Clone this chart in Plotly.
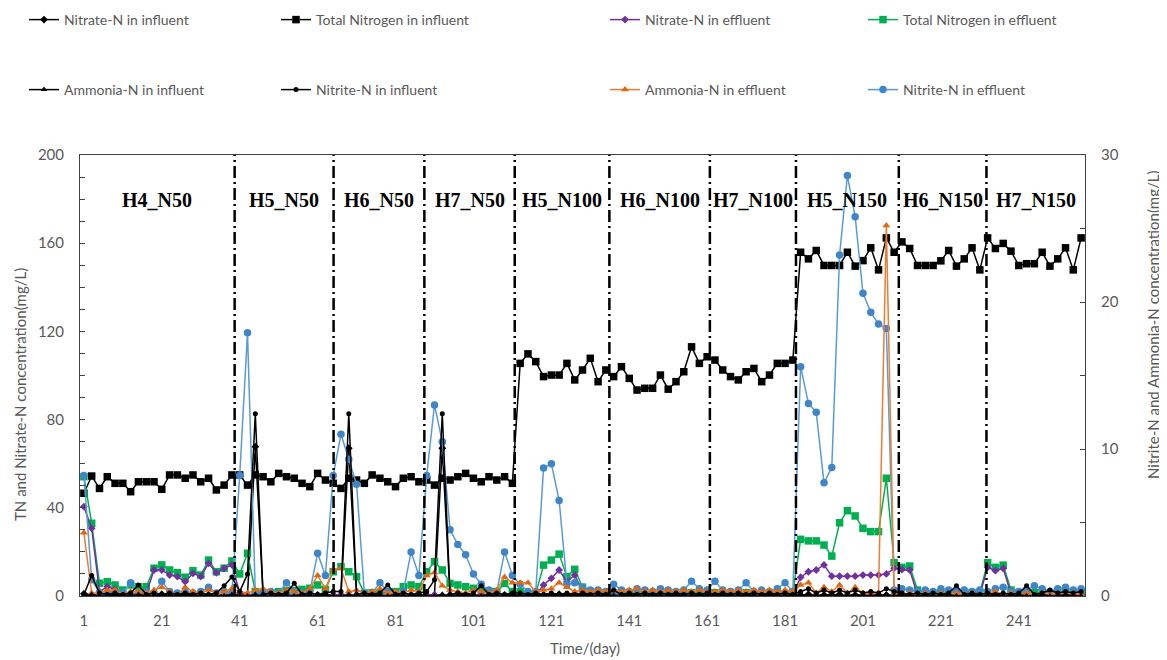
import plotly.graph_objects as go

# ---------------- data ----------------
days = list(range(1, 258, 2))  # sampling days (129 samples)
x_ticks = [1, 21, 41, 61, 81, 101, 121, 141, 161, 181, 201, 221, 241]

phase_names = ["H4_N50", "H5_N50", "H6_N50", "H7_N50", "H5_N100", "H6_N100",
               "H7_N100", "H5_N150", "H6_N150", "H7_N150"]
phase_bounds = [39.7, 65.1, 88.4, 111.6, 135.9, 161.7, 183.8, 210.2, 232.7]

tn_in = [
    46.6, 54.4, 48.8, 54.1, 51.1, 51.1, 47.3, 51.8, 51.8, 51.8, 48.4, 54.9, 54.9, 53.4, 54.9, 51.8, 53.4, 48.1, 50.3, 54.9,
    54.9, 50.3, 54.9, 54.1, 51.8, 55.6, 54.1, 53.4, 51.1, 49.6, 55.6, 52.6, 51.1,
    48.8, 53.4, 52.6, 51.1, 54.9, 53.4, 51.8, 49.6, 53.4, 54.1, 51.8,
    52.6, 50.3, 53.4, 52.6, 54.1, 55.6, 53.4, 51.8, 54.1, 52.6, 54.1, 51.1,
    105.5, 109.8, 106.3, 99.5, 100.2, 100.2, 105.5, 98.0, 102.5, 107.8, 97.2, 102.5,
    99.5, 104.0, 98.7, 93.4, 94.2, 94.2, 100.2, 93.8, 97.2, 101.7, 113.0, 105.5, 108.5,
    107.0, 102.5, 99.5, 98.0, 101.7, 103.2, 97.2, 100.2, 105.5, 105.5, 107.0,
    155.9, 152.9, 156.7, 149.9, 149.9, 149.9, 155.9, 149.6, 152.1, 157.9, 147.9, 162.4, 155.9,
    160.6, 157.6, 149.9, 149.9, 149.9, 152.0, 156.7, 149.6, 152.9, 157.9, 147.9,
    162.4, 157.6, 159.9, 156.4, 149.9, 150.7, 150.7, 155.9, 149.6, 152.9, 157.9, 147.9, 162.4]

tn_eff = [
    54.1, 33.0, 5.8, 6.5, 5.0, 2.7, 5.0, 4.2, 4.2, 12.6, 14.1, 11.8, 10.6, 8.5, 11.5, 9.5, 16.3, 11.0, 12.6, 15.9,
    10.0, 19.4, 2.0, 1.5, 1.5, 2.0, 2.5, 2.5, 3.0, 3.5, 5.0, 3.0, 11.0,
    13.3, 11.0, 8.8, 1.3, 1.5, 1.5, 1.5, 2.0, 4.2, 5.0, 4.2,
    11.0, 15.6, 11.8, 5.7, 5.0, 4.2, 3.5, 2.7, 2.0, 2.0, 5.7, 2.0,
    2.0, 1.0, 1.0, 14.0, 16.3, 19.0, 8.8, 12.1, 4.0, 2.0, 1.5, 1.5,
    1.5, 1.0, 1.5, 1.0, 1.5, 1.0, 1.5, 1.0, 1.5, 1.0, 1.5, 1.5, 1.0,
    1.5, 1.0, 1.5, 1.0, 1.5, 1.0, 1.5, 1.0, 1.5, 1.0, 1.5,
    25.7, 25.0, 25.0, 23.1, 18.1, 33.2, 38.7, 36.3, 30.7, 29.2, 29.2, 53.4, 15.1,
    13.0, 13.6, 2.7, 1.5, 1.0, 1.5, 1.0, 1.5, 1.0, 1.5, 1.5,
    15.1, 13.0, 14.0, 2.7, 1.5, 1.0, 1.5, 1.5, 1.0, 1.5, 1.5, 1.0, 1.5]

nitrate_eff = [
    40.5, 30.7, 2.0, 4.2, 3.0, 1.0, 1.0, 1.0, 1.0, 11.8, 11.8, 9.5, 8.8, 6.5, 10.3, 8.8, 14.8, 10.5, 12.6, 14.1,
    1.5, 0.5, 0.3, 0.5, 0.3, 0.5, 0.3, 0.5, 0.3, 0.5, 0.3, 0.5, 0.3,
    0.5, 0.3, 0.5, 0.3, 0.5, 0.3, 0.5, 0.3, 0.5, 0.3, 0.5,
    0.3, 0.5, 0.3, 0.5, 0.3, 0.5, 0.3, 0.5, 0.3, 0.5, 0.3, 0.5,
    0.5, 0.5, 0.5, 5.0, 8.0, 11.8, 6.5, 9.5, 2.0, 0.5, 0.5, 0.5,
    0.3, 0.5, 0.3, 0.5, 0.3, 0.5, 0.3, 0.5, 0.3, 0.5, 0.3, 0.5, 0.3,
    0.5, 0.3, 0.5, 0.3, 0.5, 0.3, 0.5, 0.3, 0.5, 0.3, 0.5,
    8.5, 11.0, 11.8, 14.1, 9.0, 9.0, 9.0, 9.0, 9.5, 9.5, 9.5, 10.0, 12.6,
    12.0, 11.8, 0.5, 0.3, 0.5, 0.3, 0.5, 0.3, 0.5, 0.3, 0.5,
    13.0, 11.5, 12.5, 1.0, 0.5, 0.3, 0.5, 0.3, 0.5, 0.3, 0.5, 0.3, 0.5]

nitrate_in = [
    1.0, 0.5, 0.5, 0.8, 0.5, 0.5, 0.8, 0.5, 0.5, 0.5, 0.8, 0.5, 0.5, 0.5, 0.8, 0.5, 0.5, 0.5, 0.8, 0.5,
    0.5, 0.5, 67.7, 0.5, 0.5, 0.8, 0.5, 0.5, 0.5, 0.8, 0.5, 0.5, 0.5,
    0.5, 67.0, 0.5, 0.5, 0.8, 0.5, 0.5, 0.5, 0.8, 0.5, 0.5,
    0.5, 0.5, 67.0, 0.5, 0.5, 0.8, 0.5, 0.5, 0.5, 0.8, 0.5, 0.5,
    0.5, 0.8, 0.5, 0.5, 0.5, 0.8, 0.5, 0.5, 0.5, 0.8, 0.5, 0.5,
    0.5, 0.8, 0.5, 0.5, 0.5, 0.8, 0.5, 0.5, 0.5, 0.8, 0.5, 0.5, 0.5,
    0.8, 0.5, 0.5, 0.5, 0.8, 0.5, 0.5, 0.5, 0.8, 0.5, 0.5,
    0.5, 0.8, 0.5, 0.5, 0.5, 0.8, 0.5, 0.5, 0.5, 0.8, 0.5, 0.5, 0.5,
    0.8, 0.5, 0.5, 0.5, 0.8, 0.5, 0.5, 0.5, 0.8, 0.5, 0.5,
    0.5, 0.8, 0.5, 0.5, 0.5, 0.8, 0.5, 0.5, 0.5, 0.8, 0.5, 0.5, 0.5]

nitrite_eff = [
    8.2, 1.1, 0.2, 0.2, 0.3, 0.2, 0.9, 0.2, 0.3, 0.2, 1.0, 0.3, 0.2, 0.3, 0.2, 0.3, 0.6, 0.2, 0.3, 0.2,
    8.2, 17.9, 0.2, 0.2, 0.3, 0.2, 0.9, 0.3, 0.2, 0.3, 2.9, 1.4, 8.2,
    11.0, 9.3, 7.6, 0.2, 0.2, 0.9, 0.3, 0.2, 0.3, 3.0, 1.4,
    8.2, 13.0, 10.5, 4.5, 3.5, 2.8, 1.5, 0.8, 0.4, 0.3, 3.0, 1.4,
    0.8, 0.3, 0.3, 8.7, 9.0, 6.5, 0.8, 0.9, 0.6, 0.4, 0.4, 0.3,
    0.8, 0.4, 0.3, 0.5, 0.4, 0.3, 0.5, 0.4, 0.3, 0.4, 1.0, 0.5, 0.4,
    1.0, 0.4, 0.3, 0.4, 0.9, 0.3, 0.4, 0.3, 0.5, 0.9, 0.3,
    15.6, 13.1, 12.5, 7.7, 8.75, 23.2, 28.6, 25.8, 20.6, 19.3, 18.5, 18.2, 0.4,
    0.5, 0.4, 0.3, 0.4, 0.3, 0.5, 0.4, 0.3, 0.4, 0.3, 0.4,
    0.3, 0.5, 0.6, 0.3, 0.3, 0.4, 0.7, 0.5, 0.3, 0.5, 0.6, 0.4, 0.5]

ammonia_eff = [
    4.3, 0.2, 0.2, 0.4, 0.4, 0.1, 0.3, 0.3, 0.2, 0.4, 0.6, 0.3, 0.0, 0.6, 0.3, 0.2, 0.4, 0.2, 0.3, 0.5,
    0.3, 0.2, 0.4, 0.5, 0.3, 0.2, 0.4, 0.3, 0.2, 0.5, 1.4, 0.5, 1.8,
    1.9, 0.3, 0.4, 0.2, 0.3, 0.5, 0.2, 0.3, 0.2, 0.4, 0.3,
    1.4, 1.6, 0.7, 0.4, 0.3, 0.2, 0.4, 0.3, 0.2, 0.4, 1.3, 0.9,
    0.9, 0.9, 0.3, 0.4, 0.5, 0.9, 0.6, 0.3, 0.4, 0.3, 0.4, 0.3,
    0.4, 0.3, 0.4, 0.5, 0.3, 0.4, 0.3, 0.4, 0.3, 0.4, 0.3, 0.4, 0.3,
    0.3, 0.4, 0.3, 0.4, 0.3, 0.4, 0.3, 0.4, 0.3, 0.4, 0.3,
    0.75, 0.9, 0.2, 0.6, 0.3, 0.75, 0.2, 0.6, 0.2, 0.2, 0.2, 25.2, 0.2,
    0.0, 0.2, 0.1, 0.2, 0.1, 0.2, 0.1, 0.2, 0.1, 0.2, 0.1,
    0.2, 0.3, 0.1, 0.2, 0.1, 0.2, 0.1, 0.2, 0.1, 0.2, 0.1, 0.2, 0.1]

nitrite_in = [
    0.1, 1.4, 0.2, 0.1, 0.2, 0.1, 0.2, 0.75, 0.1, 0.2, 0.1, 0.2, 0.1, 0.2, 0.1, 0.2, 0.1, 0.2, 0.7, 1.3,
    0.3, 1.5, 12.4, 0.1, 0.2, 0.1, 0.2, 0.86, 0.1, 0.2, 0.1, 0.2, 0.3,
    0.3, 12.4, 0.1, 0.2, 0.1, 0.2, 0.75, 0.1, 0.2, 0.1, 0.2,
    0.3, 1.1, 12.4, 0.1, 0.2, 0.1, 0.2, 0.7, 0.1, 0.2, 0.1, 0.2,
    0.2, 0.1, 0.2, 0.1, 0.2, 0.1, 0.2, 0.1, 0.2, 0.1, 0.2, 0.1,
    0.4, 0.1, 0.2, 0.1, 0.2, 0.1, 0.2, 0.1, 0.2, 0.1, 0.2, 0.1, 0.2,
    0.1, 0.2, 0.1, 0.2, 0.1, 0.2, 0.1, 0.2, 0.1, 0.2, 0.1,
    0.3, 0.5, 0.2, 0.4, 0.2, 0.4, 0.2, 0.4, 0.2, 0.3, 0.2, 0.5, 0.3,
    0.2, 0.1, 0.2, 0.1, 0.2, 0.1, 0.2, 0.7, 0.1, 0.2, 0.1,
    0.2, 0.1, 0.2, 0.1, 0.2, 0.7, 0.1, 0.2, 0.4, 0.2, 0.3, 0.2, 0.3]

ammonia_in = [
    0.0, 0.1, 0.0, 0.0, 0.1, 0.0, 0.0, 0.1, 0.0, 0.0, 0.1, 0.0, 0.0, 0.1, 0.0, 0.0, 0.1, 0.0, 0.0, 0.1,
    0.0, 0.0, 0.1, 0.0, 0.0, 0.1, 0.0, 0.0, 0.1, 0.0, 0.0, 0.1, 0.0,
    0.0, 0.1, 0.0, 0.0, 0.1, 0.0, 0.0, 0.1, 0.0, 0.0, 0.1,
    0.0, 0.0, 0.1, 0.0, 0.0, 0.1, 0.0, 0.0, 0.1, 0.0, 0.0, 0.1,
    0.0, 0.0, 0.1, 0.0, 0.0, 0.1, 0.0, 0.0, 0.1, 0.0, 0.0, 0.1,
    0.0, 0.0, 0.1, 0.0, 0.0, 0.1, 0.0, 0.0, 0.1, 0.0, 0.0, 0.1, 0.0,
    0.0, 0.1, 0.0, 0.0, 0.1, 0.0, 0.0, 0.1, 0.0, 0.0, 0.1,
    0.0, 0.1, 0.0, 0.0, 0.1, 0.0, 0.0, 0.1, 0.0, 0.0, 0.1, 0.0, 0.0,
    0.1, 0.0, 0.0, 0.1, 0.0, 0.0, 0.1, 0.0, 0.0, 0.1, 0.0,
    0.0, 0.1, 0.0, 0.0, 0.1, 0.0, 0.0, 0.1, 0.0, 0.0, 0.1, 0.0, 0.0]

# ---------------- figure ----------------
# page body has an 8px margin, so the figure is drawn 8px smaller and offset
OFF = 8
W, H = 1167 - OFF, 660 - OFF
FONT = "Lato"
GREY = "#595959"

# plot area in screen pixels
PL, PR, PT, PB = 80, 1085, 155, 596

fig = go.Figure()

specs = [
    # name, values, axis, line color, marker color, symbol, size, legend id
    ("Total Nitrogen in influent", tn_in, "y", "#000000", "#000000", "square", 7.5, "legend2"),
    ("Nitrate-N in influent", nitrate_in, "y", "#000000", "#000000", "diamond", 6, "legend"),
    ("Total Nitrogen in effluent", tn_eff, "y", "#00B050", "#00B050", "square", 7.5, "legend4"),
    ("Nitrate-N in effluent", nitrate_eff, "y", "#7030A0", "#7030A0", "diamond", 6, "legend3"),
    ("Nitrite-N in effluent", nitrite_eff, "y2", "#5B9BD5", "#3F86C9", "circle", 7.5, "legend8"),
    ("Ammonia-N in effluent", ammonia_eff, "y2", "#ED7D31", "#E0660F", "triangle-up", 7, "legend7"),
    ("Ammonia-N in influent", ammonia_in, "y2", "#000000", "#000000", "triangle-up", 6, "legend5"),
    ("Nitrite-N in influent", nitrite_in, "y2", "#000000", "#000000", "circle", 5, "legend6"),
]

for name, vals, ax, lc, mc, sym, sz, leg in specs:
    fig.add_trace(go.Scatter(
        x=days, y=vals, name=name, yaxis=ax, mode="lines+markers",
        line=dict(color=lc, width=1.5),
        marker=dict(color=mc, symbol=sym, size=sz, line=dict(width=0)),
        legend=leg,
    ))

# legends: 2 rows x 4 columns (screen px of the legend line start / row centre)
leg_cols = [30, 282, 611, 869]
leg_rows = [20, 90]
leg_ids = ["legend", "legend2", "legend3", "legend4", "legend5", "legend6", "legend7", "legend8"]
legend_layout = {}
for k, lid in enumerate(leg_ids):
    r, c = divmod(k, 4)
    legend_layout[lid] = dict(
        x=(leg_cols[c] - OFF - 6) / W, y=1 - (leg_rows[r] - OFF) / H,
        xref="container", yref="container",
        xanchor="left", yanchor="middle", bgcolor="rgba(0,0,0,0)",
        font=dict(family=FONT, size=14, color=GREY),
    )

# phase boundary lines
for b in phase_bounds:
    fig.add_shape(type="line", xref="x", yref="paper", x0=b, x1=b, y0=0, y1=1,
                  line=dict(color="black", width=2.5, dash="12px,4px,2px,4px"))

pw, ph = PR - PL, PB - PT

# phase labels
edges = [0] + phase_bounds + [258]
for i, nm in enumerate(phase_names):
    fig.add_annotation(x=(edges[i] + edges[i + 1]) / 2, y=(PB - 200) / ph,
                       xref="x", yref="paper", xanchor="center", yanchor="middle",
                       text="<b>" + nm + "</b>", showarrow=False,
                       font=dict(family="Liberation Serif", size=20, color="black"))

# axis titles as annotations
fig.add_annotation(x=(20 - PL) / pw, y=(PB - 395) / ph, xref="paper", yref="paper",
                   xanchor="center", yanchor="middle",
                   text="TN and Nitrate-N concentration(mg/L)", showarrow=False, textangle=-90,
                   font=dict(family=FONT, size=15, color=GREY))
fig.add_annotation(x=(1153 - PL) / pw, y=(PB - 325) / ph, xref="paper", yref="paper",
                   xanchor="center", yanchor="middle",
                   text="Nitrite-N and Ammonia-N concentration(mg/L)", showarrow=False, textangle=-90,
                   font=dict(family=FONT, size=15, color=GREY))
fig.add_annotation(x=(585 - PL) / pw, y=(PB - 648) / ph, xref="paper", yref="paper",
                   xanchor="center", yanchor="middle",
                   text="Time/(day)", showarrow=False,
                   font=dict(family=FONT, size=15, color=GREY))

axis_line = "#404040"
fig.update_layout(
    width=W, height=H,
    margin=dict(l=PL - OFF, r=W - (PR - OFF), t=PT - OFF, b=H - (PB - OFF), autoexpand=False),
    paper_bgcolor="white", plot_bgcolor="white",
    showlegend=True,
    font=dict(family=FONT, color=GREY),
    xaxis=dict(range=[0, 258], tickvals=x_ticks, ticks="", showline=True, mirror=True,
               linecolor=axis_line, linewidth=1, showgrid=False, zeroline=False, automargin=False,
               tickfont=dict(family=FONT, size=15, color=GREY), ticklabelstandoff=11),
    yaxis=dict(range=[0, 200], dtick=40, ticks="inside", ticklen=5, tickcolor=axis_line,
               minor=dict(dtick=10, ticks="inside", ticklen=5, tickcolor=axis_line),
               showline=True, linecolor=axis_line, linewidth=1, showgrid=False, zeroline=False,
               automargin=False,
               tickfont=dict(family=FONT, size=15, color=GREY), ticklabelstandoff=12),
    yaxis2=dict(range=[0, 30], dtick=10, ticks="inside", ticklen=5, tickcolor=axis_line,
                minor=dict(dtick=5, ticks="inside", ticklen=5, tickcolor=axis_line),
                overlaying="y", side="right", automargin=False,
                showline=True, linecolor=axis_line, linewidth=1, showgrid=False, zeroline=False,
                tickfont=dict(family=FONT, size=15, color=GREY), ticklabelstandoff=12),
    **legend_layout,
)

fig.write_html("out.html")
